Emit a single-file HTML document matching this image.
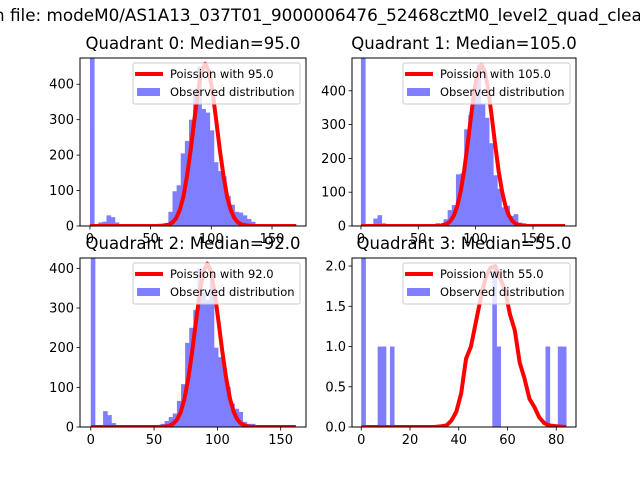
<!DOCTYPE html>
<html><head><meta charset="utf-8"><style>
body{margin:0;background:#fff;}
svg{display:block;font-family:"DejaVu Sans","Liberation Sans",sans-serif;}
</style></head><body>
<svg id="fig" width="640" height="480" viewBox="0 0 640 480" xmlns="http://www.w3.org/2000/svg">
<rect width="640" height="480" fill="#fff"/>
<text x="-6" y="21" font-size="16.8" fill="#000">n file: modeM0/AS1A13_037T01_9000006476_52468cztM0_level2_quad_clean.evt</text>
</svg>
<script>
// ---- data ----
const q0Counts = [800,3,10,12,30,25,10,0,0,0,0,0,0,0,0,0,0,3,5,40,98,115,205,240,300,375,450,330,320,270,180,155,140,85,60,40,38,30,20,12,5,3,2,1,1,0,0,0,0,1];
const q1Counts = [800,0,0,22,32,8,0,0,0,0,0,0,0,0,0,0,0,0,8,5,20,47,62,153,155,286,328,410,478,360,320,245,150,110,55,60,30,35,10,8,5,3,2,1,1,0,0,0,0,0];
const q2Counts = [800,0,0,40,30,10,3,0,0,0,0,0,0,0,0,0,3,8,15,25,34,66,108,212,250,295,400,340,320,375,200,176,150,101,59,46,38,13,8,8,3,3,1,1,1,3,0,0,0,0];
const q3Counts = [4,0,0,0,1,1,0,1,0,0,0,0,0,0,0,0,0,0,0,0,0,0,0,0,0,0,0,0,0,0,0,0,2,1,0,0,0,0,0,0,0,0,0,0,0,1,0,0,1,1];
const q0BinMax = 170, q1BinMax = 180, q2BinMax = 162, q3BinMax = 84;

const q0LineX = [0,55,60,65,68,71,74,77,80,83,86,89,92,95,98,101,104,107,110,113,116,119,122,125,130,135,170];
const q0LineY = [0,0,1,4,10,22,45,83,142,215,299,379,436,458,436,379,299,215,142,83,45,22,10,4,1,0,0];
const q1LineX = [0,65,70,75,78,81,84,87,90,93,96,99,102,105,108,111,114,117,120,123,126,129,132,135,140,145,178];
const q1LineY = [0,0,1.5,6,15,31,59,103,164,241,325,404,458,478,458,404,325,241,164,103,59,31,15,6,1.5,0,0];
const q2LineX = [0,52,57,62,65,68,71,74,77,80,83,86,89,92,95,98,101,104,107,110,113,116,119,122,127,132,162];
const q2LineY = [0,0,0.5,3,8,18,37,71,122,188,263,336,392,412,392,336,263,188,122,71,37,18,8,3,0.5,0,0];
const q3LineX = [0,30,33,35,37,39,41,43,45,47,49,51,53,55,57,59,61,63,65,67,69,71,73,75,77,80,84];
const q3LineY = [0,0,0.01,0.02,0.08,0.19,0.42,0.85,1.0,1.3,1.6,1.85,1.98,2.0,1.85,1.7,1.4,1.2,0.8,0.6,0.35,0.25,0.12,0.05,0.02,0.01,0];

const titles = ["Quadrant 0: Median=95.0","Quadrant 1: Median=105.0","Quadrant 2: Median=92.0","Quadrant 3: Median=55.0"];
const legendLabels = ["Poission with 95.0","Poission with 105.0","Poission with 92.0","Poission with 55.0"];
const xTicks0 = [0,50,100,150], xTicks3 = [0,20,40,60,80];
const yTicks0 = [0,100,200,300,400], yTicks3 = [0,0.5,1.0,1.5,2.0];
const yTickLabels3 = ["0.0","0.5","1.0","1.5","2.0"];

// ---- layout ----
const panels = [
 {box:[80,58,306,226], xd:[-8.2,178], yd:[0,474], counts:q0Counts, bmax:q0BinMax, lx:q0LineX, ly:q0LineY, xt:xTicks0, yt:yTicks0, ytl:null},
 {box:[352,58,576,226], xd:[-7.8,187.5], yd:[0,497], counts:q1Counts, bmax:q1BinMax, lx:q1LineX, ly:q1LineY, xt:xTicks0, yt:yTicks0, ytl:null},
 {box:[80,258,306,427], xd:[-8.5,170], yd:[0,426], counts:q2Counts, bmax:q2BinMax, lx:q2LineX, ly:q2LineY, xt:xTicks0, yt:yTicks0, ytl:null},
 {box:[352,258,576,427], xd:[-3.8,88.1], yd:[0,2.1], counts:q3Counts, bmax:q3BinMax, lx:q3LineX, ly:q3LineY, xt:xTicks3, yt:yTicks3, ytl:yTickLabels3}
];
const NS="http://www.w3.org/2000/svg";
const fig=document.getElementById('fig');
function mk(tag,attrs,parent){const e=document.createElementNS(NS,tag);for(const k in attrs)e.setAttribute(k,attrs[k]);(parent||fig).appendChild(e);return e;}

panels.forEach((p,pi)=>{
 const [x0,y0,x1,y1]=p.box;
 const sx=v=>x0+(v-p.xd[0])/(p.xd[1]-p.xd[0])*(x1-x0);
 const sy=v=>y1-(v-p.yd[0])/(p.yd[1]-p.yd[0])*(y1-y0);
 const g=mk('g',{});
 
 
 const cid='clip'+pi;
 const cp=mk('clipPath',{id:cid},g);
 mk('rect',{x:x0,y:y0,width:x1-x0,height:y1-y0},cp);
 const plot=mk('g',{'clip-path':'url(#'+cid+')'},g);
 const bars=mk('g',{opacity:0.5},plot);
 
 
 const n=p.counts.length, bw=p.bmax/n;
 p.counts.forEach((c,i)=>{
  if(c<=0)return;
  const r=mk('rect',{x:sx(i*bw),y:sy(c),width:sx((i+1)*bw)-sx(i*bw)+0.5,height:sy(0)-sy(c),fill:'#0000ff'},bars);
  
  
 });
 const pts=p.lx.map((x,i)=>sx(x).toFixed(2)+','+sy(p.ly[i]).toFixed(2)).join(' ');
 const pl=mk('polyline',{points:pts,fill:'none',stroke:'#ff0000','stroke-width':4,'stroke-linejoin':'round','stroke-linecap':'butt'},plot);
 
 
 const fr=mk('rect',{x:x0,y:y0,width:x1-x0,height:y1-y0,fill:'none',stroke:'#000','stroke-width':1},g);
 
 
 p.xt.forEach(t=>{
  const x=sx(t);
  mk('line',{x1:x,x2:x,y1:y1,y2:y1+3.5,stroke:'#000','stroke-width':0.8},g);
  const tx=mk('text',{x:x,y:y1+17,'font-size':13,'text-anchor':'middle',fill:'#000'},g);
  tx.textContent=String(t);
  
  
 });
 p.yt.forEach((t,i)=>{
  const y=sy(t);
  mk('line',{x1:x0,x2:x0-3.5,y1:y,y2:y,stroke:'#000','stroke-width':0.8},g);
  const tx=mk('text',{x:x0-6,y:y+4.5,'font-size':13,'text-anchor':'end',fill:'#000'},g);
  tx.textContent=p.ytl?p.ytl[i]:String(t);
  
  
 });
 const ti=mk('text',{x:(x0+x1)/2,y:y0-9,'font-size':16.5,'text-anchor':'middle',fill:'#000'},g);
 ti.textContent=titles[pi];
 
 
 const lg=mk('g',{},g);
 
 
 const lx0=x1-173, ly0=y0+5;
 mk('rect',{x:lx0,y:ly0,width:167,height:41,rx:2,fill:'#fff','fill-opacity':0.8,stroke:'#cccccc','stroke-width':1},lg);
 mk('line',{x1:lx0+2,x2:lx0+30,y1:ly0+11,y2:ly0+11,stroke:'#ff0000','stroke-width':4},lg);
 mk('rect',{x:lx0+4,y:ly0+25,width:23,height:8,fill:'#0000ff','fill-opacity':0.5},lg);
 const t1=mk('text',{x:lx0+37,y:ly0+15,'font-size':11.5,fill:'#000'},lg);
 t1.textContent=legendLabels[pi];
 
 
 const t2=mk('text',{x:lx0+37,y:ly0+33,'font-size':11.5,fill:'#000'},lg);
 t2.textContent='Observed distribution';
 
 
});
</script>
</body></html>
